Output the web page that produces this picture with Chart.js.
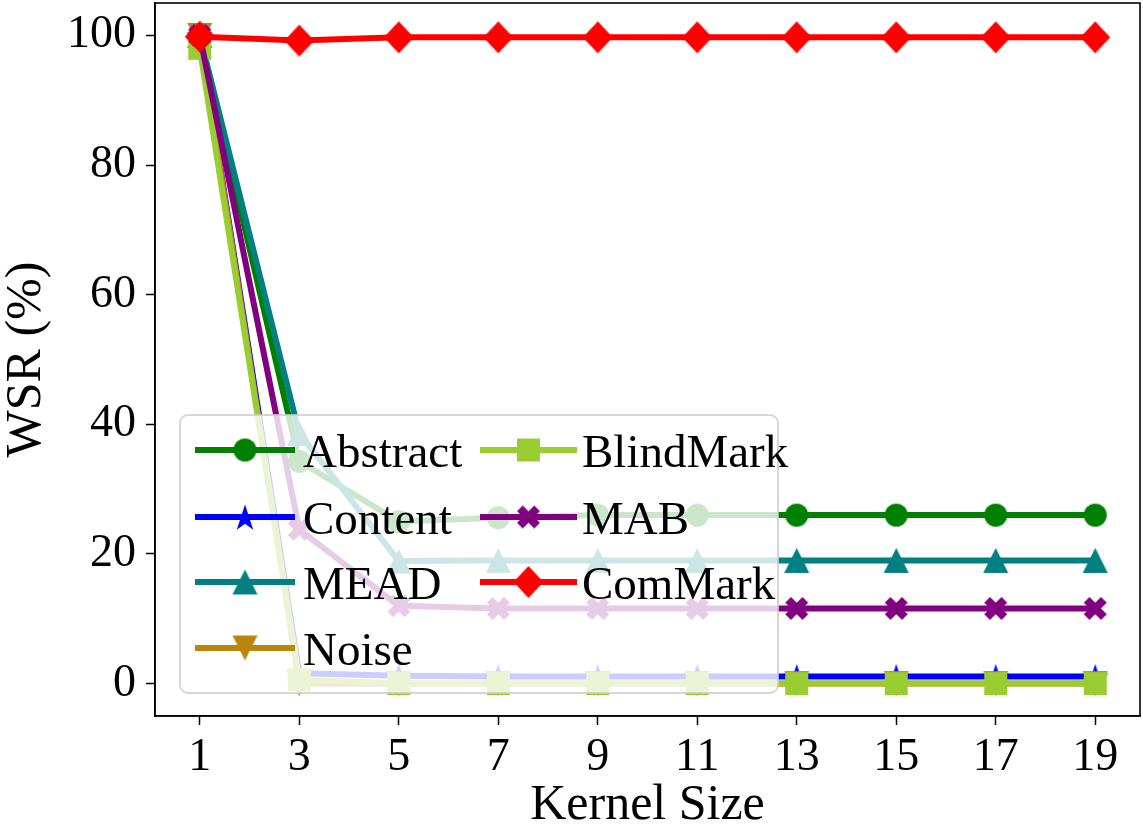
<!DOCTYPE html>
<html><head><meta charset="utf-8">
<script src="https://cdn.jsdelivr.net/npm/chart.js@4.4.0/dist/chart.umd.min.js"></script>
<style>html,body{margin:0;padding:0;background:#fff;}#wrap{width:1143px;height:834px;position:relative;}</style>
</head><body><div id="wrap"><canvas id="c"></canvas></div>
<script>
const kernelSizes = [1, 3, 5, 7, 9, 11, 13, 15, 17, 19];
const yTickValues = [0, 20, 40, 60, 80, 100];
const seriesNames = ['Abstract', 'Content', 'MEAD', 'Noise', 'BlindMark', 'MAB', 'ComMark'];
const abstractWSR  = [100, 34.3, 25.0, 25.6, 26.0, 26.0, 26.0, 26.0, 26.0, 26.0];
const contentWSR   = [100, 1.6, 1.2, 1.1, 1.1, 1.1, 1.1, 1.1, 1.1, 1.1];
const meadWSR      = [100, 38.6, 18.9, 19.0, 19.0, 19.0, 19.0, 19.0, 19.0, 19.0];
const noiseWSR     = [100, 0.0, 0.0, 0.0, 0.0, 0.0, 0.0, 0.0, 0.0, 0.0];
const blindMarkWSR = [98.0, 0.6, 0.0, 0.0, 0.0, 0.0, 0.0, 0.0, 0.0, 0.0];
const mabWSR       = [100, 23.8, 12.0, 11.6, 11.6, 11.6, 11.6, 11.6, 11.6, 11.6];
const comMarkWSR   = [99.8, 99.2, 99.7, 99.7, 99.7, 99.7, 99.7, 99.7, 99.7, 99.7];

const FONT = '"Liberation Serif", "Times New Roman", serif';

function makeMarker(shape, color, w, h) {
  const cv = document.createElement('canvas');
  cv.width = w + 2; cv.height = h + 2;
  const c = cv.getContext('2d');
  const cx = cv.width / 2, cy = cv.height / 2;
  c.fillStyle = color;
  c.beginPath();
  if (shape === 'circle') {
    c.arc(cx, cy, w / 2, 0, Math.PI * 2);
  } else if (shape === 'square') {
    c.rect(cx - w / 2, cy - h / 2, w, h);
  } else if (shape === 'diamond') {
    c.moveTo(cx, cy - h / 2); c.lineTo(cx + w / 2, cy); c.lineTo(cx, cy + h / 2); c.lineTo(cx - w / 2, cy);
  } else if (shape === 'tri') {
    c.moveTo(cx, cy - h / 2); c.lineTo(cx + w / 2, cy + h / 2); c.lineTo(cx - w / 2, cy + h / 2);
  } else if (shape === 'trid') {
    c.moveTo(cx, cy + h / 2); c.lineTo(cx + w / 2, cy - h / 2); c.lineTo(cx - w / 2, cy - h / 2);
  } else if (shape === 'star') {
    const R = w / 2, r = R * 0.381966;
    for (let i = 0; i < 10; i++) {
      const a = -Math.PI / 2 + i * Math.PI / 5;
      const rr = i % 2 === 0 ? R : r;
      const px = cx + rr * Math.cos(a), py = cy + 1.5 + rr * Math.sin(a);
      if (i === 0) c.moveTo(px, py); else c.lineTo(px, py);
    }
  } else if (shape === 'x') {
    const pts = [[-1,-2],[0,-1],[1,-2],[2,-1],[1,0],[2,1],[1,2],[0,1],[-1,2],[-2,1],[-1,0],[-2,-1]];
    pts.forEach((p, i) => {
      const px = cx + p[0] / 4 * w, py = cy + p[1] / 4 * h;
      if (i === 0) c.moveTo(px, py); else c.lineTo(px, py);
    });
  }
  c.closePath();
  c.fill();
  return cv;
}

const colors = ['#008000', '#0000ff', '#008080', '#b8860b', '#9acd32', '#800080', '#ff0000'];
const markers = [
  makeMarker('circle', colors[0], 23, 23),
  makeMarker('star', colors[1], 28, 28),
  makeMarker('tri', colors[2], 25, 25),
  makeMarker('trid', colors[3], 25, 25),
  makeMarker('square', colors[4], 23, 23),
  makeMarker('x', colors[5], 23, 23),
  makeMarker('diamond', colors[6], 30, 32)
];
const allValues = [abstractWSR, contentWSR, meadWSR, noiseWSR, blindMarkWSR, mabWSR, comMarkWSR];

const datasets = seriesNames.map((name, k) => ({
  label: name,
  data: kernelSizes.map((x, i) => ({ x: x, y: allValues[k][i] })),
  borderColor: colors[k],
  backgroundColor: colors[k],
  borderWidth: 6,
  borderJoinStyle: 'round',
  pointStyle: markers[k],
  pointRadius: 12,
  pointHoverRadius: 12,
  tension: 0,
  order: seriesNames.length - k,
  clip: false
}));

const framePlugin = {
  id: 'frameAndLegend',
  afterDatasetsDraw(chart) {
    const ctx = chart.ctx, a = chart.chartArea;
    ctx.save();
    ctx.strokeStyle = '#000';
    ctx.lineWidth = 1.6;
    ctx.strokeRect(a.left, a.top, a.right - a.left, a.bottom - a.top);
    // legend box
    const bx = 180, by = 415, bw = 598, bh = 278, rad = 8;
    ctx.beginPath();
    ctx.moveTo(bx + rad, by);
    ctx.arcTo(bx + bw, by, bx + bw, by + bh, rad);
    ctx.arcTo(bx + bw, by + bh, bx, by + bh, rad);
    ctx.arcTo(bx, by + bh, bx, by, rad);
    ctx.arcTo(bx, by, bx + bw, by, rad);
    ctx.closePath();
    ctx.fillStyle = 'rgba(255,255,255,0.8)';
    ctx.fill();
    ctx.strokeStyle = 'rgba(204,204,204,0.8)';
    ctx.lineWidth = 2;
    ctx.stroke();
    const rows = [450, 517, 582, 648];
    const cols = [{ x0: 195, x1: 295, tx: 303 }, { x0: 480, x1: 577, tx: 582 }];
    ctx.font = '47px ' + FONT;
    ctx.textBaseline = 'alphabetic';
    ctx.textAlign = 'left';
    seriesNames.forEach((name, k) => {
      const col = cols[k < 4 ? 0 : 1];
      const y = rows[k < 4 ? k : k - 4];
      ctx.strokeStyle = colors[k];
      ctx.lineWidth = 6;
      ctx.beginPath(); ctx.moveTo(col.x0, y); ctx.lineTo(col.x1, y); ctx.stroke();
      const m = markers[k];
      const mx = (col.x0 + col.x1) / 2;
      ctx.drawImage(m, mx - m.width / 2, y - m.height / 2);
      ctx.fillStyle = '#000';
      ctx.fillText(name, col.tx, y + 17);
    });
    ctx.restore();
  }
};

new Chart(document.getElementById('c'), {
  type: 'line',
  data: { datasets: datasets },
  options: {
    responsive: true,
    maintainAspectRatio: false,
    animation: false,
    devicePixelRatio: 1,
    layout: { autoPadding: false, padding: { top: 3, right: 3, left: 0, bottom: 0 } },
    plugins: { legend: { display: false }, tooltip: { enabled: false } },
    scales: {
      x: {
        type: 'linear',
        min: 0.1, max: 19.9,
        afterBuildTicks: (s) => { s.ticks = kernelSizes.map(v => ({ value: v })); },
        afterFit: (s) => { s.height = 118; s.paddingLeft = 0; s.paddingRight = 0; },
        grid: { drawOnChartArea: false, drawTicks: true, tickLength: 9, tickColor: '#000', tickWidth: 1.5 },
        border: { display: true, color: '#000', width: 1.6 },
        ticks: { color: '#000', font: { family: FONT, size: 46 }, padding: 5, maxRotation: 0, autoSkip: false },
        title: { display: true, text: 'Kernel Size', color: '#000', font: { family: FONT, size: 50, lineHeight: 1 }, padding: { top: 0, bottom: 3 } }
      },
      y: {
        min: -5, max: 105,
        afterBuildTicks: (s) => { s.ticks = yTickValues.map(v => ({ value: v })); },
        afterFit: (s) => { s.width = 155; s.paddingTop = 0; s.paddingBottom = 0; },
        grid: { drawOnChartArea: false, drawTicks: true, tickLength: 9, tickColor: '#000', tickWidth: 1.5 },
        border: { display: true, color: '#000', width: 1.6 },
        ticks: { color: '#000', font: { family: FONT, size: 46 }, padding: 10 },
        title: { display: true, text: 'WSR (%)', color: '#000', font: { family: FONT, size: 50, lineHeight: 1 }, padding: { top: 2, bottom: 0 } }
      }
    }
  },
  plugins: [framePlugin]
});
</script></body></html>
